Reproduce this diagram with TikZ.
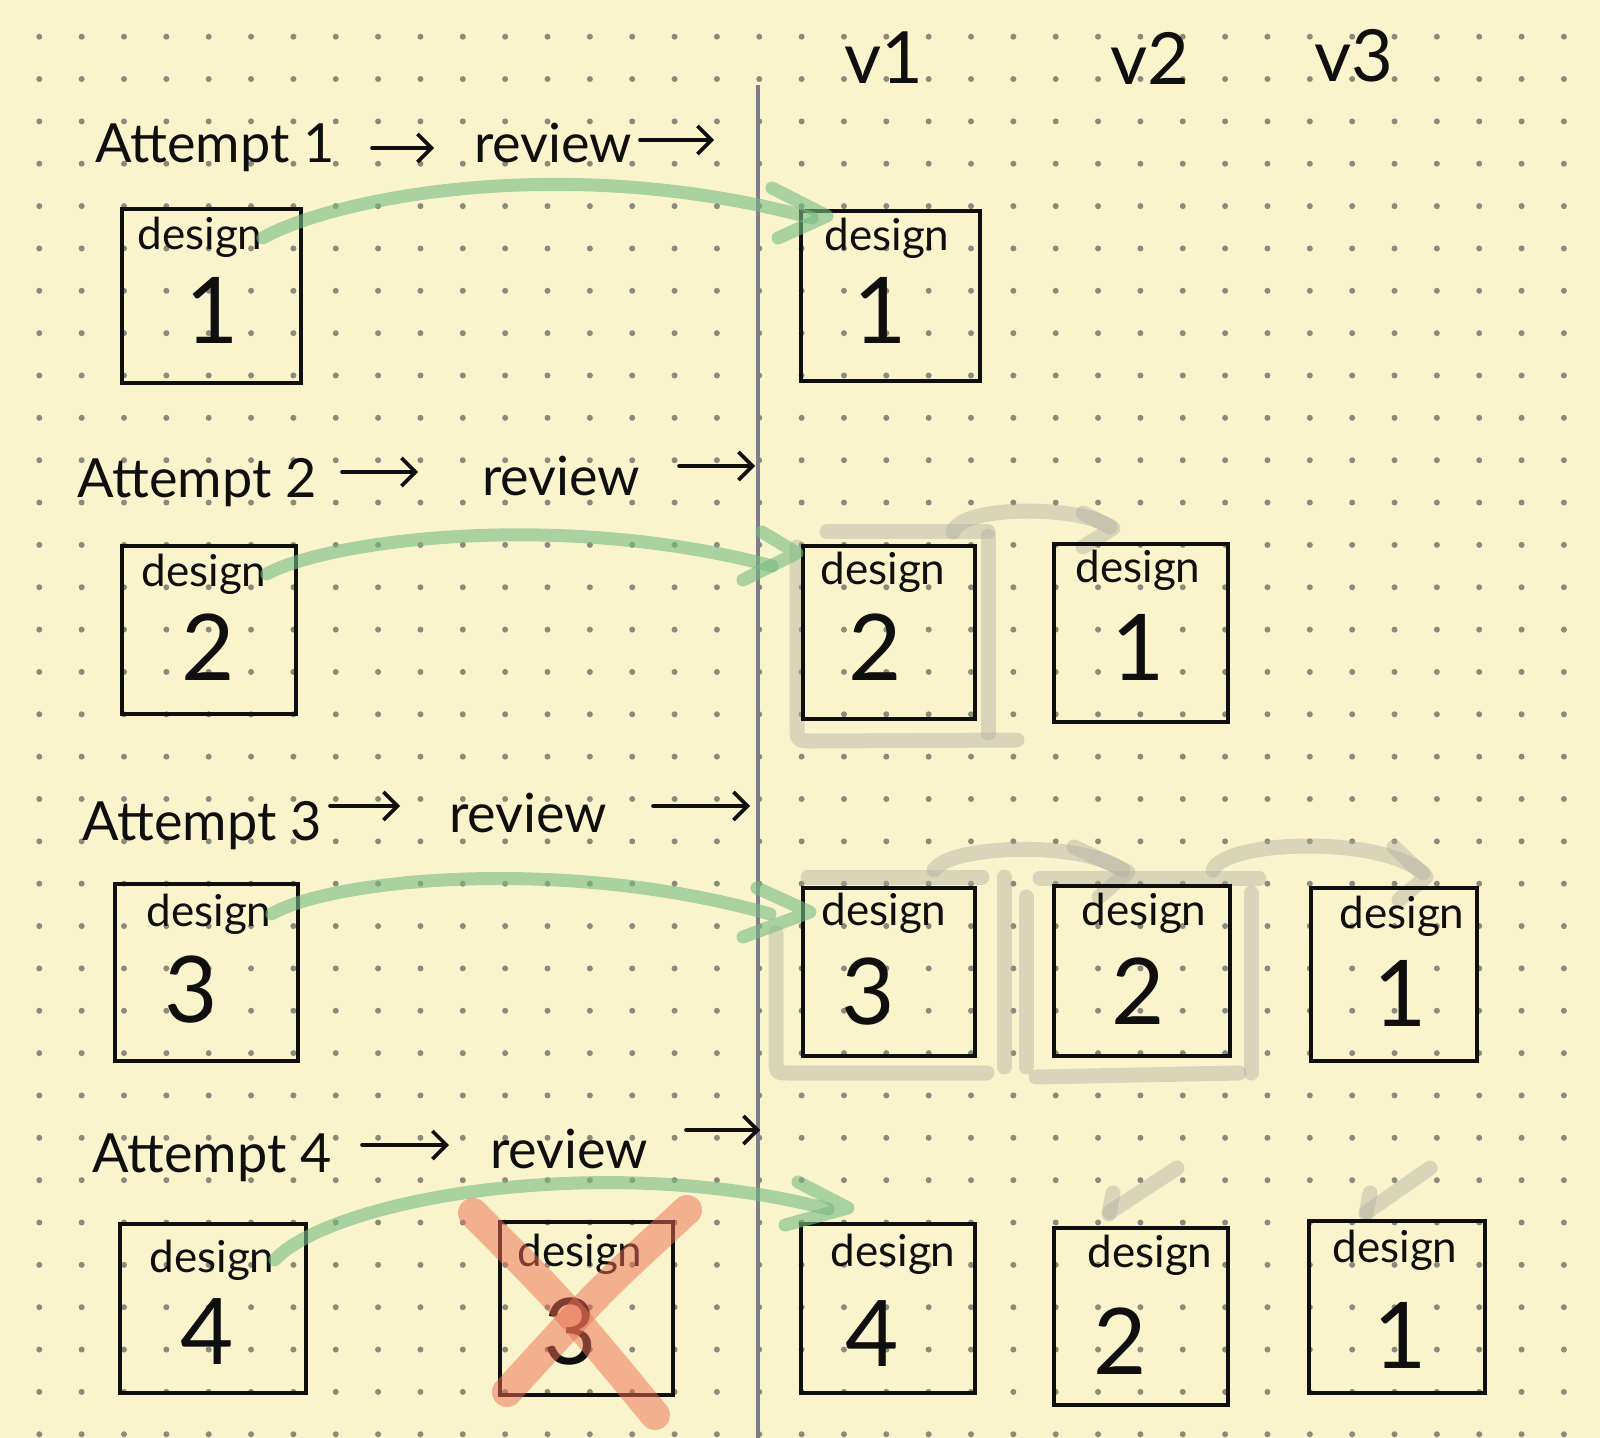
\documentclass[tikz,border=0pt]{standalone}
\usepackage{fontspec}
\setmainfont{Lato}
\usetikzlibrary{arrows.meta}
\definecolor{paper}{RGB}{250,244,204}
\definecolor{dotc}{RGB}{140,138,125}
\definecolor{rulec}{RGB}{125,125,140}
\definecolor{inkc}{RGB}{15,15,15}
\definecolor{hlgreen}{RGB}{117,187,131}
\definecolor{hlgrey}{RGB}{172,172,160}
\definecolor{hlred}{RGB}{236,110,84}
\begin{document}
\begin{tikzpicture}[x=0.5pt,y=-0.5pt,
  dbox/.style={draw=inkc,line width=2pt,inner sep=0pt},
  lbl/.style={font=\fontsize{27}{30}\selectfont,inner sep=0pt,text=inkc,anchor=base west},
  harrow/.style={draw=inkc,line width=1.8pt,line cap=round,-{Straight Barb[length=7pt,width=14pt,line width=1.8pt]}},
  hdr/.style={font=\fontsize{36}{40}\selectfont,inner sep=0pt,text=inkc},
  dlab/.style={font=\fontsize{22}{24}\selectfont,inner sep=0pt,text=inkc,anchor=base},
  num/.style={font=\fontsize{46}{50}\selectfont,inner sep=0pt,text=inkc,anchor=base},
  gline/.style={draw=hlgreen,opacity=0.6,line width=6.5pt,line cap=round,line join=round},
  gryline/.style={draw=hlgrey,opacity=0.42,line width=7.5pt,line cap=round,line join=round},
  redline/.style={draw=hlred,opacity=0.5,line width=15pt,line cap=round}]
% background and bounding box
\fill[paper] (0,0) rectangle (1600,1438);
\useasboundingbox (0,0) rectangle (1600,1438);
% dot grid
\foreach \i in {0,...,36}{
  \foreach \j in {0,...,33}{
    \fill[dotc] ({39.3+42.35*\i},{36.7+42.35*\j}) circle (1.5pt);
  }
}
% vertical rule
\draw[rulec,line width=2pt] (758,85) -- (758,1438);

% column headers
\node[hdr] (v1) at (884,58) {v1};
\node[hdr] (v2) at (1150,58) {v2};
\node[hdr] (v3) at (1354,56) {v3};

% ---- grey highlight strokes (row 2)
\draw[gryline] (827,532) -- (988,532);
\draw[gryline] (988,536) -- (988,733);
\draw[gryline] (797,547) -- (797,725) .. controls (797,741) .. (815,741) -- (1017,740);
\draw[gryline] (953,532) .. controls (960,505) and (1080,505) .. (1110,527);
\draw[gryline] (1083,513) -- (1113,528) -- (1083,547);
% ---- grey highlight strokes (row 3)
\draw[gryline] (808,877) -- (982,877);
\draw[gryline] (776,933) -- (776,1060) .. controls (776,1073) .. (790,1073) -- (987,1073);
\draw[gryline] (1004,877) -- (1004,1067);
\draw[gryline] (1026,897) -- (1026,1067);
\draw[gryline] (934,870) .. controls (950,845) and (1080,840) .. (1123,870);
\draw[gryline] (1074,847) -- (1128,872) -- (1099,897);
\draw[gryline] (1040,878) -- (1259,878);
\draw[gryline] (1251,893) -- (1251,1073);
\draw[gryline] (1036,1077) -- (1239,1073);
\draw[gryline] (1213,870) .. controls (1225,840) and (1380,835) .. (1423,873);
\draw[gryline] (1394,847) -- (1426,877) -- (1399,900);
% ---- grey highlight strokes (row 4)
\draw[gryline] (1177,1168) -- (1110,1212);
\draw[gryline] (1113,1193) -- (1109,1214);
\draw[gryline] (1430,1168) -- (1367,1212);
\draw[gryline] (1370,1193) -- (1366,1214);

% ---- row texts
\node[lbl] (att1) at (95,163) {Attempt 1};
\node[lbl] (rev1) at (474,163) {review};
\node[lbl] (att2) at (77,498) {Attempt 2};
\node[lbl] (rev2) at (482,495) {review};
\node[lbl] (att3) at (82,840) {Attempt 3};
\node[lbl] (rev3) at (449,832) {review};
\node[lbl] (att4) at (92,1172) {Attempt 4};
\node[lbl] (rev4) at (490,1168) {review};

% ---- hand-drawn arrows between the words
\coordinate (h1a) at (372,148); \coordinate (h1b) at (434,148);
\coordinate (h1c) at (640,140); \coordinate (h1d) at (714,140);
\coordinate (h2a) at (342,472); \coordinate (h2b) at (418,472);
\coordinate (h2c) at (679,466); \coordinate (h2d) at (755,466);
\coordinate (h3a) at (330,806); \coordinate (h3b) at (400,806);
\coordinate (h3c) at (653,806); \coordinate (h3d) at (750,806);
\coordinate (h4a) at (362,1145); \coordinate (h4b) at (449,1145);
\coordinate (h4c) at (686,1130); \coordinate (h4d) at (760,1130);
\draw[harrow] (h1a) -- (h1b);
\draw[harrow] (h1c) -- (h1d);
\draw[harrow] (h2a) -- (h2b);
\draw[harrow] (h2c) -- (h2d);
\draw[harrow] (h3a) -- (h3b);
\draw[harrow] (h3c) -- (h3d);
\draw[harrow] (h4a) -- (h4b);
\draw[harrow] (h4c) -- (h4d);

% ---- boxes
% row 1
\node[dbox,minimum width=89.5pt,minimum height=87pt] (b1a) at (211.5,296) {};
\node[dlab] (d1a) at (200,250) {design};
\node[num] (n1a) at (212,344) {1};
\node[dbox,minimum width=89.5pt,minimum height=85pt] (b1v1) at (890.5,296) {};
\node[dlab] (d1v1) at (887,251) {design};
\node[num] (n1v1) at (880,344) {1};
% row 2
\node[dbox,minimum width=87pt,minimum height=84pt] (b2a) at (209,630) {};
\node[dlab] (d2a) at (204,586) {design};
\node[num] (n2a) at (208,680) {2};
\node[dbox,minimum width=86pt,minimum height=86.5pt] (b2v1) at (889,632.5) {};
\node[dlab] (d2v1) at (883,584) {design};
\node[num] (n2v1) at (875,680) {2};
\node[dbox,minimum width=87pt,minimum height=89pt] (b2v2) at (1141,633) {};
\node[dlab] (d2v2) at (1138,582) {design};
\node[num] (n2v2) at (1138,680) {1};
% row 3
\node[dbox,minimum width=91.5pt,minimum height=88.5pt] (b3a) at (206.5,972.5) {};
\node[dlab] (d3a) at (209,926) {design};
\node[num] (n3a) at (191,1022) {3};
\node[dbox,minimum width=86pt,minimum height=84pt] (b3v1) at (889,972) {};
\node[dlab] (d3v1) at (884,925) {design};
\node[num] (n3v1) at (868,1024) {3};
\node[dbox,minimum width=88pt,minimum height=85pt] (b3v2) at (1142,971) {};
\node[dlab] (d3v2) at (1144,925) {design};
\node[num] (n3v2) at (1138,1024) {2};
\node[dbox,minimum width=83pt,minimum height=86.5pt] (b3v3) at (1394,974.5) {};
\node[dlab] (d3v3) at (1402,928) {design};
\node[num] (n3v3) at (1400,1026) {1};
% row 4
\node[dbox,minimum width=93pt,minimum height=84.5pt] (b4a) at (213,1308.5) {};
\node[dlab] (d4a) at (212,1272) {design};
\node[num] (n4a) at (207,1364) {4};
\node[dbox,minimum width=86.5pt,minimum height=86.5pt] (b4x) at (586.5,1308.5) {};
\node[dlab] (d4x) at (580,1266) {design};
\node[num] (n4x) at (570,1364) {3};
\node[dbox,minimum width=87pt,minimum height=84.5pt] (b4v1) at (888,1308.5) {};
\node[dlab] (d4v1) at (893,1266) {design};
\node[num] (n4v1) at (872,1366) {4};
\node[dbox,minimum width=87pt,minimum height=88.5pt] (b4v2) at (1141,1316.5) {};
\node[dlab] (d4v2) at (1150,1267) {design};
\node[num] (n4v2) at (1120,1374) {2};
\node[dbox,minimum width=88pt,minimum height=86pt] (b4v3) at (1397,1307) {};
\node[dlab] (d4v3) at (1395,1262) {design};
\node[num] (n4v3) at (1400,1368) {1};

% ---- green arrows (left design -> v1 column)
\coordinate (g1) at (812,218);
\coordinate (g2) at (772,566);
\coordinate (g3) at (770,914);
\coordinate (g4) at (828,1209);
\draw[gline] (d1a.east) .. controls (330,200) and (560,150) .. (g1);
\draw[gline] (772,188) -- (827,216) -- (778,238);
\draw[gline] (d2a.east) .. controls (330,540) and (560,510) .. (g2);
\draw[gline] (762,532) -- (797,553) -- (743,580);
\draw[gline] (d3a.east) .. controls (330,880) and (560,855) .. (g3);
\draw[gline] (757,888) -- (810,912) -- (743,937);
\draw[gline] (d4a.east) .. controls (330,1200) and (600,1150) .. (g4);
\draw[gline] (798,1182) -- (848,1208) -- (785,1225);

% ---- red cross over rejected design
\draw[redline] (473,1213) .. controls (560,1300) .. (655,1415);
\draw[redline] (687,1210) .. controls (600,1290) .. (507,1392);
\end{tikzpicture}
\end{document}
